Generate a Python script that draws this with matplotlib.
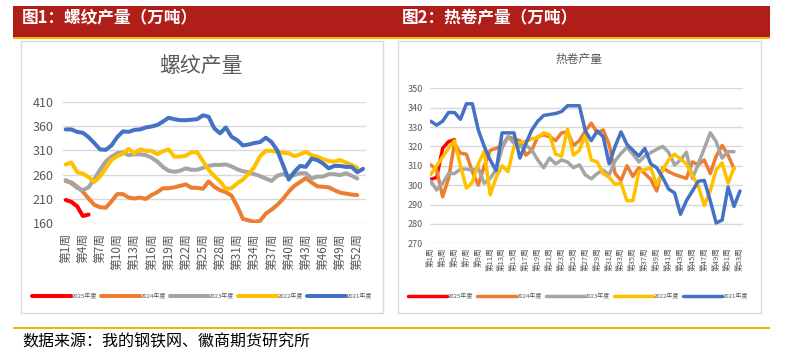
import matplotlib
matplotlib.use("Agg")
import matplotlib.pyplot as plt
from matplotlib.patches import Rectangle

plt.rcParams['font.family'] = ['Noto Sans CJK SC', 'DejaVu Sans']

# ---- data: rebar output (万吨), week 1..53
rebar_2025 = [208, 204, 195, 175, 178]
rebar_2024 = [247, 244, 235, 225, 211, 198, 193, 192, 205, 220,
              220, 213, 211, 213, 210, 218, 224, 232, 232, 234,
              237, 240, 233, 233, 231, 246, 235, 228, 224, 217,
              195, 169, 166, 163, 165, 180, 188, 198, 210, 225,
              237, 245, 253, 244, 236, 235, 234, 228, 223, 221,
              219, 218]
rebar_2023 = [249, 242, 233, 228, 234, 251, 270, 287, 297, 304,
              306, 300, 302, 302, 300, 295, 287, 276, 268, 266,
              268, 273, 270, 270, 274, 278, 280, 280, 281, 277,
              271, 267, 265, 261, 257, 252, 247, 258, 261, 257,
              259, 263, 263, 252, 256, 256, 261, 261, 259, 263,
              258, 252]
rebar_2022 = [281, 285, 265, 262, 255, 245, 256, 273, 290, 298,
              303, 313, 304, 312, 309, 309, 302, 308, 312, 297,
              297, 299, 306, 306, 288, 270, 257, 246, 231, 232,
              242, 250, 262, 276, 298, 309, 309, 307, 305, 304,
              298, 302, 307, 300, 297, 292, 288, 287, 290, 285,
              280, 274]
rebar_2021 = [353, 353, 348, 346, 337, 325, 312, 311, 320, 337,
              349, 348, 352, 353, 357, 359, 362, 369, 377, 374,
              372, 372, 373, 374, 382, 379, 355, 345, 357, 338,
              331, 320, 322, 325, 327, 336, 327, 310, 280, 250,
              266, 278, 276, 293, 290, 283, 273, 278, 278, 276,
              276, 265, 272]

# ---- data: hot-rolled coil output (万吨), week 1..53
hrc_2025 = [303, 304, 319, 322.5, 323.5]
hrc_2024 = [310.5, 308, 294, 303.5, 321.5, 316.5, 316, 307, 300, 310,
            318, 319, 320.5, 325, 324, 323, 315.5, 318, 325, 326,
            325, 323, 327, 327.5, 320.5, 323, 328, 332, 327, 328.5,
            321, 306, 302.5, 310, 304.5, 309, 306, 303, 297, 309,
            307, 305.5, 304.5, 303.5, 312, 310.5, 313, 306, 315, 320.5,
            315.5, 308.5]
hrc_2023 = [302, 297.5, 301, 306, 306, 308.3, 308.3, 307.8, 308.7, 301,
            303.5, 308, 319, 325, 321.6, 320, 320.7, 318, 313, 309,
            314, 311, 313, 312, 309, 310.5, 305.3, 303.3, 306, 307.8,
            305.3, 312.5, 316.4, 319.5, 316, 312, 315, 316.8, 318.5, 320,
            317, 310.4, 313, 317, 303.5, 311, 319, 327, 322.5, 314,
            317.3, 317.3]
hrc_2022 = [305.5, 310, 314.5, 319, 323, 310, 298.5, 301.5, 311, 317.5,
            295, 304, 310, 307, 320, 322, 322.5, 324, 324.5, 327,
            326, 316, 315, 329, 315.5, 318, 326, 313, 312, 306,
            304, 300.5, 301, 292, 292, 307, 308, 309, 300, 308,
            313, 316, 313.5, 311, 305, 299.5, 289.5, 297, 308, 311.5,
            301, 309]
hrc_2021 = [333, 331, 333, 337.5, 337.5, 334, 342, 342, 328.5, 320,
            313, 307.5, 327, 327, 327, 314, 321.5, 328.5, 333, 336,
            336.5, 337, 338, 341, 341, 341, 328, 323, 328, 325,
            311, 320, 327.5, 321, 318, 315, 319, 311, 309, 304,
            298, 296, 285, 292, 297, 302, 302.5, 292, 280.5, 282,
            299, 289, 297]

years = ['2025年度', '2024年度', '2023年度', '2022年度', '2021年度']
colors = ['#FF0000', '#ED7D31', '#A5A5A5', '#FFC000', '#4472C4']
weeks = list(range(1, 54))
rebar_ticks = list(range(1, 54, 3))
hrc_ticks = list(range(1, 54, 2))

W, H = 785, 353
fig = plt.figure(figsize=(W / 100, H / 100), dpi=100)


def fbox(x0, y0, x1, y1):
    # pixel box (top-left origin) -> figure rect
    return [x0 / W, 1 - y1 / H, (x1 - x0) / W, (y1 - y0) / H]


def rect(x0, y0, x1, y1, **kw):
    l, b, w, h = fbox(x0, y0, x1, y1)
    fig.patches.append(Rectangle((l, b), w, h, transform=fig.transFigure,
                                 zorder=-5, **kw))


# header + footer bands
rect(12.6, 6, 770, 36.7, facecolor='#B01E1A', edgecolor='none')
rect(12.6, 36.7, 770, 39.3, facecolor='#F5B400', edgecolor='none')
rect(12.6, 326.7, 770, 329.3, facecolor='#F5B400', edgecolor='none')
fig.text(22 / W, 1 - 18 / H, '图1：螺纹产量（万吨）', color='white', fontsize=12,
         fontweight='bold', va='center', ha='left')
fig.text(402 / W, 1 - 18 / H, '图2：热卷产量（万吨）', color='white', fontsize=12,
         fontweight='bold', va='center', ha='left')
fig.text(22 / W, 1 - 342 / H, '数据来源：我的钢铁网、徽商期货研究所', color='black',
         fontsize=11.5, va='center', ha='left')

# chart frames
rect(20.7, 41, 382.7, 313, facecolor='white', edgecolor='#D9D9D9', lw=1)
rect(398, 41, 761, 313, facecolor='white', edgecolor='#D9D9D9', lw=1)

# chart titles
fig.text(201 / W, 1 - 66 / H, '螺纹产量', fontsize=15, color='#595959',
         ha='center', va='center')
fig.text(579 / W, 1 - 59 / H, '热卷产量', fontsize=8.5, color='#595959',
         ha='center', va='center')


def style(ax, ylim, yticks, ysize, ypad):
    ax.set_ylim(*ylim)
    ax.set_yticks(yticks)
    for s in ax.spines.values():
        s.set_visible(False)
    ax.grid(axis='y', color='#D9D9D9', lw=1)
    ax.set_axisbelow(True)
    ax.tick_params(length=0, colors='#595959')
    ax.tick_params(axis='y', labelsize=ysize, pad=ypad)
    ax.patch.set_alpha(0)


# ---- left: rebar
ax1 = fig.add_axes(fbox(63.3, 101.7, 366, 223.3))
for vals, c, lab in zip([rebar_2025, rebar_2024, rebar_2023, rebar_2022, rebar_2021],
                        colors, years):
    ax1.plot(weeks[:len(vals)], vals, color=c, lw=2.9, label=lab,
             solid_capstyle='round', solid_joinstyle='round')
style(ax1, (160, 410), range(160, 411, 50), 9, 7)
ax1.set_xlim(0.58, 53.52)
ax1.set_xticks(rebar_ticks)
ax1.set_xticklabels([f'第{w}周' for w in rebar_ticks], rotation=90, fontsize=8.5)
ax1.tick_params(axis='x', pad=7)
ax1.legend(loc='center', bbox_to_anchor=(202 / W, 1 - 296.5 / H),
           bbox_transform=fig.transFigure, ncol=5, frameon=False, fontsize=4.3,
           handlelength=6.5, handletextpad=0.15, columnspacing=0.6,
           labelcolor='#595959')

# ---- right: hot-rolled coil
ax2 = fig.add_axes(fbox(430, 88.3, 742.7, 243.3))
for vals, c, lab in zip([hrc_2025, hrc_2024, hrc_2023, hrc_2022, hrc_2021],
                        colors, years):
    ax2.plot(weeks[:len(vals)], vals, color=c, lw=2.5, label=lab,
             solid_capstyle='round', solid_joinstyle='round')
style(ax2, (270, 350), range(270, 351, 10), 6.5, 5)
ax2.set_xlim(0.88, 53.46)
ax2.set_xticks(hrc_ticks)
ax2.set_xticklabels([f'第{w}周' for w in hrc_ticks], rotation=90, fontsize=5.5)
ax2.tick_params(axis='x', pad=3)
ax2.legend(loc='center', bbox_to_anchor=(578 / W, 1 - 296.5 / H),
           bbox_transform=fig.transFigure, ncol=5, frameon=False, fontsize=4.3,
           handlelength=6.5, handletextpad=0.15, columnspacing=0.6,
           labelcolor='#595959')

fig.savefig('out.png', dpi=100)
